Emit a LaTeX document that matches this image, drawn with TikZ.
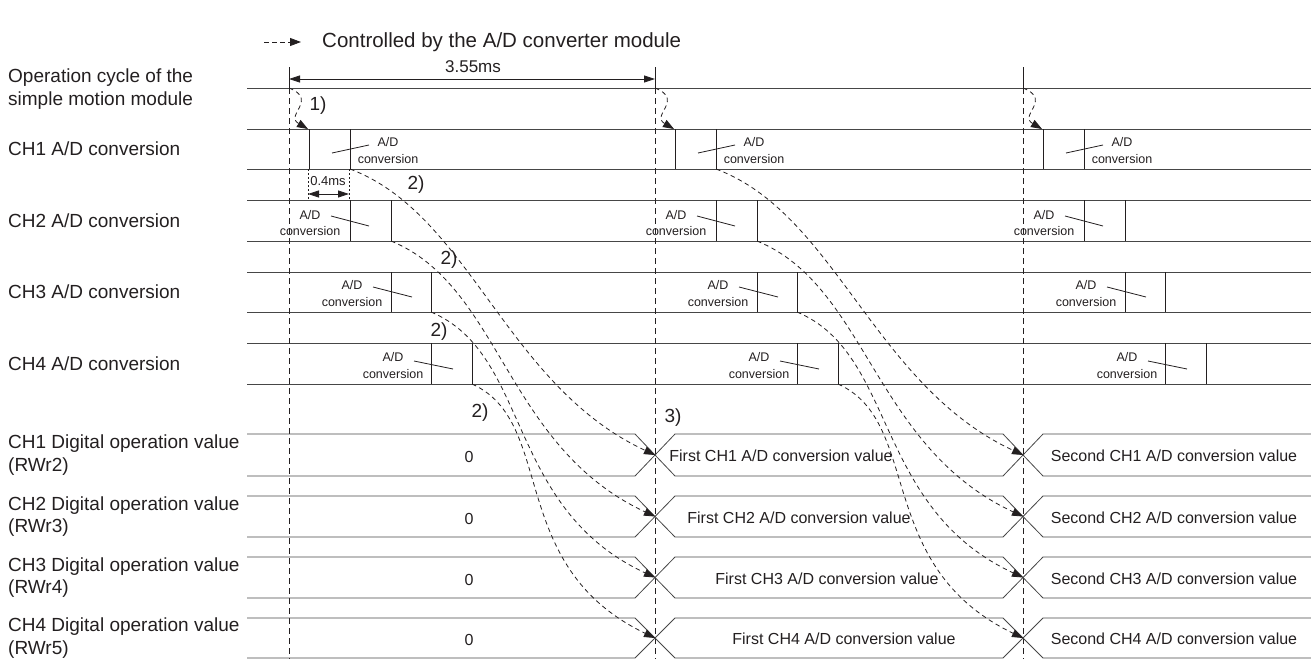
\documentclass[tikz,border=0pt]{standalone}
\usepackage{fontspec}
\setmainfont{Liberation Sans}
\usetikzlibrary{arrows.meta}
\definecolor{ink}{RGB}{35,31,32}
\definecolor{rule}{RGB}{70,70,70}
\begin{document}
\begin{tikzpicture}[x=1pt,y=-1pt,
  every node/.style={text=ink,inner sep=0pt},
  hline/.style={draw=rule,line width=0.8pt},
  vline/.style={draw=ink,line width=0.8pt},
  dline/.style={draw=ink,line width=0.8pt,dash pattern=on 6pt off 4pt},
  xline/.style={draw=ink,line width=0.7pt,dash pattern=on 2pt off 2pt},
  ctl/.style={draw=ink,line width=0.8pt,dash pattern=on 4.5pt off 3.5pt,-{Triangle[length=11pt,width=8pt]}},
  dimarr/.style={draw=ink,line width=0.8pt,{Triangle[length=11pt,width=7pt]}-{Triangle[length=11pt,width=7pt]}},
  lbl/.style={font=\fontsize{19}{22.5}\selectfont,anchor=west,align=left},
  adlbl/.style={font=\fontsize{12.5}{16.5}\selectfont,align=center},
  vallbl/.style={font=\fontsize{16}{19}\selectfont},
  numlbl/.style={font=\fontsize{19}{22}\selectfont},
]
\useasboundingbox (0,0) rectangle (1311,659);

% legend
\coordinate (lgA) at (264,42);
\coordinate (lgB) at (301,42);
\draw[ctl] (lgA) -- (lgB);
\node[anchor=west,font=\fontsize{20.5}{24}\selectfont] (leg) at (322,42) {Controlled by the A/D converter module};

% left labels
\node[lbl] (lop) at (8,89) {Operation cycle of the\\simple motion module};
\node[lbl] (lc1) at (8,149) {CH1 A/D conversion};
\node[lbl] (lc2) at (8,220.5) {CH2 A/D conversion};
\node[lbl] (lc3) at (8,292) {CH3 A/D conversion};
\node[lbl] (lc4) at (8,363.5) {CH4 A/D conversion};
\node[lbl] (ld1) at (8,455) {CH1 Digital operation value\\(RWr2)};
\node[lbl] (ld2) at (8,516.5) {CH2 Digital operation value\\(RWr3)};
\node[lbl] (ld3) at (8,577.5) {CH3 Digital operation value\\(RWr4)};
\node[lbl] (ld4) at (8,638) {CH4 Digital operation value\\(RWr5)};

% horizontal rows (upper)
\draw[hline] (247,88) -- (1311,88);
\foreach \t/\b in {129/169,200/241,272/312,343/384}{
  \draw[hline] (247,\t) -- (1311,\t);
  \draw[hline] (247,\b) -- (1311,\b);
}

% cycle markers
\foreach \c/\x in {1/289,2/655,3/1023}{
  \coordinate (ct\c) at (\x,67);
  \coordinate (cm\c) at (\x,88);
  \coordinate (cb\c) at (\x,659);
  \draw[vline] (ct\c) -- (cm\c);
  \draw[dline] (cm\c) -- (cb\c);
  % conversion boxes
  \draw[vline] (\x+20,129) -- (\x+20,169) (\x+61,129) -- (\x+61,169);
  \draw[vline] (\x+61,200) -- (\x+61,241) (\x+102,200) -- (\x+102,241);
  \draw[vline] (\x+102,272) -- (\x+102,312) (\x+142,272) -- (\x+142,312);
  \draw[vline] (\x+142,343) -- (\x+142,384) (\x+183,343) -- (\x+183,384);
  % labels
  \node[adlbl] (adA\c) at (\x+99,150.5) {A/D\\conversion};
  \draw[vline] (\x+43,153) -- (\x+80,145);
  \node[adlbl] (adB\c) at (\x+21,223) {A/D\\conversion};
  \draw[vline] (\x+42,216) -- (\x+80,226);
  \node[adlbl] (adC\c) at (\x+63,293.5) {A/D\\conversion};
  \draw[vline] (\x+84,287) -- (\x+123,297);
  \node[adlbl] (adD\c) at (\x+104,365.5) {A/D\\conversion};
  \draw[vline] (\x+125,361) -- (\x+164,369);
  % 1) arrow
  \coordinate (st\c) at (\x+19,129);
  \draw[ctl] (cm\c) .. controls +(30,12) and +(-24,-14) .. (st\c);
}

% dimensions
\coordinate (da) at (289,79);
\coordinate (db) at (655,79);
\draw[dimarr] (da) -- (db);
\node[font=\fontsize{17}{20}\selectfont] (t355) at (473,67) {3.55ms};
\coordinate (pa) at (308,194);
\coordinate (pb) at (349,194);
\draw[xline] (308,169) -- (308,200);
\draw[xline] (349,169) -- (349,200);
\draw[dimarr] (pa) -- (pb);
\node[font=\fontsize{13}{15}\selectfont] (t04) at (328,181) {0.4ms};

% bus rows (lower)
\foreach \i/\t/\b/\fx in {1/434/476/781,2/496/537/799,3/557/598/827,4/618/658/844}{
  \draw[hline] (247,\t) -- (635,\t) -- (675,\b) -- (1003,\b) -- (1043,\t) -- (1311,\t);
  \draw[hline] (247,\b) -- (635,\b) -- (675,\t) -- (1003,\t) -- (1043,\b) -- (1311,\b);
  \node[vallbl] (z\i) at (469,{(\t+\b)/2+2}) {0};
  \node[vallbl] (f\i) at (\fx,{(\t+\b)/2+1}) {First CH\i\ A/D conversion value};
  \node[vallbl] (s\i) at (1174,{(\t+\b)/2+1}) {Second CH\i\ A/D conversion value};
}

% 2) transfer arrows
\foreach \c/\x/\n in {1/289/655,2/655/1023}{
  \coordinate (e1\c) at (\x+61,169);  \coordinate (g1\c) at (\n,455);
  \coordinate (e2\c) at (\x+102,241); \coordinate (g2\c) at (\n,516.5);
  \coordinate (e3\c) at (\x+142,312); \coordinate (g3\c) at (\n,577.5);
  \coordinate (e4\c) at (\x+183,384); \coordinate (g4\c) at (\n,638);
  \draw[ctl] (e1\c) .. controls +(120,45) and +(-150,-70) .. (g1\c);
  \draw[ctl] (e2\c) .. controls +(110,45) and +(-150,-70) .. (g2\c);
  \draw[ctl] (e3\c) .. controls +(100,42) and +(-150,-70) .. (g3\c);
  \draw[ctl] (e4\c) .. controls +(85,38) and +(-150,-72) .. (g4\c);
}

% step numbers
\node[numlbl] (n1) at (318,106) {1)};
\node[numlbl] (n2a) at (416,185) {2)};
\node[numlbl] (n2b) at (449,260) {2)};
\node[numlbl] (n2c) at (439,332) {2)};
\node[numlbl] (n2d) at (480,413) {2)};
\node[numlbl] (n3) at (673,418) {3)};
\end{tikzpicture}
\end{document}
